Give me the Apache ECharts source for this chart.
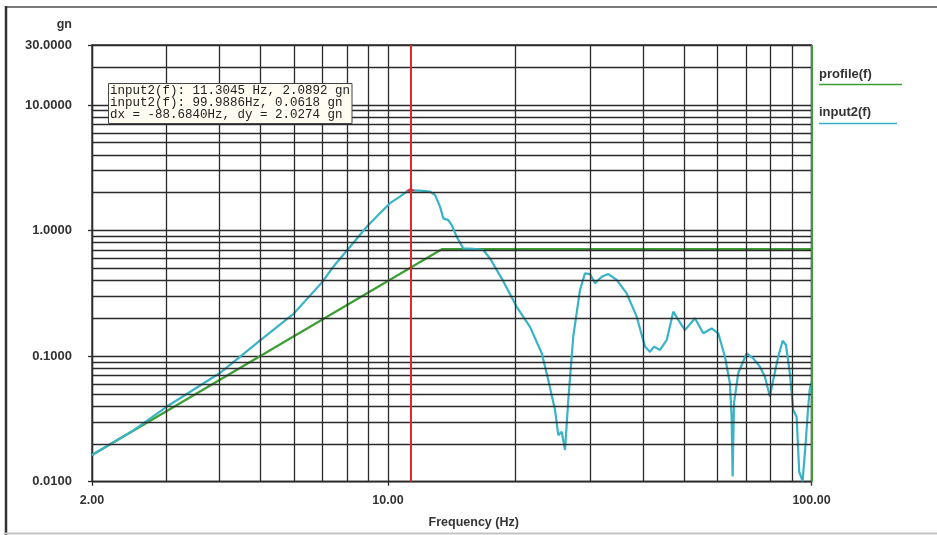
<!DOCTYPE html>
<html>
<head>
<meta charset="utf-8">
<script src="https://cdn.jsdelivr.net/npm/echarts@6/dist/echarts.min.js"></script>
<style>
html,body{margin:0;padding:0;background:#fff;}
#chart{width:937px;height:535px;}
</style>
</head>
<body>
<div id="chart"></div>
<script>
// ---- data ----
const profileFreq = [2.0, 13.4, 100];
const profileVal  = [0.0163, 0.71, 0.71];

const inputFreq = [2.0, 2.5, 3.0, 4.0, 5.0, 6.0, 7.0, 7.41, 8.91, 9.57, 10.11, 10.67, 11.07, 11.3045,
  11.9, 12.56, 12.91, 13.27, 13.51, 13.88, 14.14, 14.53, 15.06, 15.9,
  16.79, 17.41, 18.55, 20.13, 21.64, 23.07, 23.9, 24.8, 25.24, 25.71,
  26.18, 26.65, 27.38, 28.4, 29.18, 29.99, 30.82, 31.96, 33.13, 34.67,
  36.61, 38.65, 40.45, 41.56, 42.48, 43.88, 45.5, 47.17, 48.46, 50.25,
  53.06, 55.51, 58.1, 60.23, 62.46, 64.18, 64.77, 65.13, 65.6, 67.14,
  70.27, 72.85, 75.55, 77.63, 79.77, 81.21, 83.45, 85.48, 87.03, 88.92,
  90.54, 92.23, 93.54, 95.28, 97.0, 98.22, 99.13, 100];
const inputVal = [0.0163, 0.0255, 0.0395, 0.073, 0.134, 0.219, 0.39, 0.51, 1.07, 1.37, 1.65, 1.86, 2.04, 2.0892,
  2.08, 2.04, 1.92, 1.55, 1.25, 1.21, 1.106, 0.89, 0.72, 0.713,
  0.70, 0.60, 0.416, 0.247, 0.171, 0.1053, 0.0646, 0.0372, 0.0235, 0.025,
  0.0179, 0.0447, 0.1427, 0.336, 0.456, 0.45, 0.38, 0.429, 0.45, 0.404,
  0.316, 0.206, 0.119, 0.108, 0.119, 0.112, 0.134, 0.226, 0.194, 0.161,
  0.2, 0.152, 0.166, 0.152, 0.0989, 0.0607, 0.0329, 0.011, 0.0421, 0.073,
  0.105, 0.096, 0.0823, 0.0685, 0.0475, 0.0646, 0.0989, 0.1326, 0.1226, 0.073,
  0.0372, 0.0329, 0.012, 0.0101, 0.0215, 0.0395, 0.055, 0.0618];

const cursorFreq = [11.3045];
const cursorVal  = [2.0892];

const xRange = [2, 100];
const yRange = [0.01, 30];
const xGridLines = [3, 4, 5, 6, 7, 8, 9, 20, 30, 40, 50, 60, 70, 80, 90];
const yGridLines = [0.02, 0.03, 0.04, 0.05, 0.06, 0.07, 0.08, 0.09,
  0.2, 0.3, 0.4, 0.5, 0.6, 0.7, 0.8, 0.9,
  2, 3, 4, 5, 6, 7, 8, 9, 20];

const seriesNames = ['profile(f)', 'input2(f)'];
const cursorLines = [
  'input2(f): 11.3045 Hz, 2.0892 gn',
  'input2(f): 99.9886Hz, 0.0618 gn',
  'dx = -88.6840Hz, dy = 2.0274 gn'
];
const xTitle = 'Frequency (Hz)';
const yTitle = 'gn';

// ---- styles ----
const gridColor = '#2b2b2b';
const gridW = 1.3;
const teal = '#38b3c7';
const green = '#3c9f34';
const red = '#e3262b';
const labelFont = {fontFamily: 'Liberation Sans, Arial, sans-serif', fontWeight: 'bold', fontSize: 12.5, color: '#333'};

const zip = (a, b) => a.map((v, i) => [v, b[i]]);

const chart = echarts.init(document.getElementById('chart'), null, {renderer: 'canvas'});

const gridMarkData = xGridLines.map(v => ({xAxis: v})).concat(yGridLines.map(v => ({yAxis: v})));

const option = {
  animation: false,
  backgroundColor: '#fff',
  grid: {left: 92, top: 45, right: 125.5, bottom: 53.3, show: true, borderColor: gridColor, borderWidth: gridW, backgroundColor: 'transparent'},
  xAxis: {
    type: 'log', logBase: 10, min: xRange[0], max: xRange[1],
    name: xTitle, nameLocation: 'middle', nameGap: 34,
    nameTextStyle: Object.assign({}, labelFont, {padding: [0, 0, 0, 44]}),
    axisLine: {show: true, lineStyle: {color: gridColor, width: gridW}},
    axisTick: {show: true, length: 4, lineStyle: {color: gridColor, width: gridW}},
    splitLine: {show: true, lineStyle: {color: gridColor, width: gridW}},
    axisLabel: Object.assign({}, labelFont, {margin: 12, showMinLabel: true, showMaxLabel: true, formatter: v => Number(v).toFixed(2)})
  },
  yAxis: {
    type: 'log', logBase: 10, min: yRange[0], max: yRange[1],
    name: yTitle, nameLocation: 'end', nameGap: 14,
    nameTextStyle: Object.assign({}, labelFont, {align: 'right', padding: [0, 20, 0, 0]}),
    axisLine: {show: true, lineStyle: {color: gridColor, width: gridW}},
    axisTick: {show: true, length: 4, lineStyle: {color: gridColor, width: gridW}},
    splitLine: {show: true, lineStyle: {color: gridColor, width: gridW}},
    axisLabel: Object.assign({}, labelFont, {fontSize: 13, margin: 20, showMinLabel: true, showMaxLabel: true, formatter: v => Number(v).toFixed(4)})
  },
  series: [
    {
      name: 'grid', type: 'line', data: [], z: 1, silent: true,
      markLine: {
        silent: true, symbol: ['none', 'none'], label: {show: false},
        lineStyle: {color: gridColor, width: gridW, type: 'solid'},
        emphasis: {disabled: true},
        data: gridMarkData
      }
    },
    {
      name: seriesNames[0], type: 'line', data: zip(profileFreq, profileVal), z: 3,
      symbol: 'none', lineStyle: {color: green, width: 2.2}, itemStyle: {color: green},
      markLine: {
        silent: true, symbol: ['none', 'none'], label: {show: false},
        lineStyle: {color: green, width: 2, type: 'solid'},
        data: [{xAxis: xRange[1]}]
      }
    },
    {
      name: seriesNames[1], type: 'line', data: zip(inputFreq, inputVal), z: 4,
      symbol: 'none', lineStyle: {color: teal, width: 2.2}, itemStyle: {color: teal}
    },
    {
      name: 'cursor', type: 'scatter', data: zip(cursorFreq, cursorVal), z: 5,
      symbol: 'diamond', symbolSize: [9, 5], itemStyle: {color: red},
      markLine: {
        silent: true, symbol: ['none', 'none'], label: {show: false},
        lineStyle: {color: red, width: 2, type: 'solid'},
        data: [{xAxis: cursorFreq[0]}]
      }
    }
  ],
  graphic: [
    // outer frame
    {type: 'line', shape: {x1: 5, y1: 7, x2: 937, y2: 7}, style: {stroke: '#7a7a7a', lineWidth: 2}, z: 10},
    {type: 'line', shape: {x1: 6, y1: 6, x2: 6, y2: 535}, style: {stroke: '#333', lineWidth: 2.5}, z: 10},
    {type: 'line', shape: {x1: 5, y1: 533.5, x2: 937, y2: 533.5}, style: {stroke: '#c4c4c4', lineWidth: 2}, z: 10},
    // cursor readout box
    {type: 'rect', shape: {x: 108.5, y: 83.5, width: 243.5, height: 40}, style: {fill: '#fffdf2', stroke: '#444', lineWidth: 1}, z: 20},
    {type: 'text', left: 110, top: 84, z: 21, style: {text: cursorLines.join('\n'), font: '12.5px "Liberation Mono", "DejaVu Sans Mono", monospace', fill: '#222', lineHeight: 12.3}},
    // legend
    {type: 'text', left: 819, top: 68, z: 21, style: {text: seriesNames[0], font: 'bold 13px "Liberation Sans", Arial, sans-serif', fill: '#333'}},
    {type: 'line', shape: {x1: 819, y1: 84.5, x2: 902, y2: 84.5}, style: {stroke: green, lineWidth: 1.5}, z: 21},
    {type: 'text', left: 819, top: 106, z: 21, style: {text: seriesNames[1], font: 'bold 13px "Liberation Sans", Arial, sans-serif', fill: '#333'}},
    {type: 'line', shape: {x1: 819, y1: 123.5, x2: 897, y2: 123.5}, style: {stroke: teal, lineWidth: 1.5}, z: 21}
  ]
};
chart.setOption(option);
</script>
</body>
</html>
